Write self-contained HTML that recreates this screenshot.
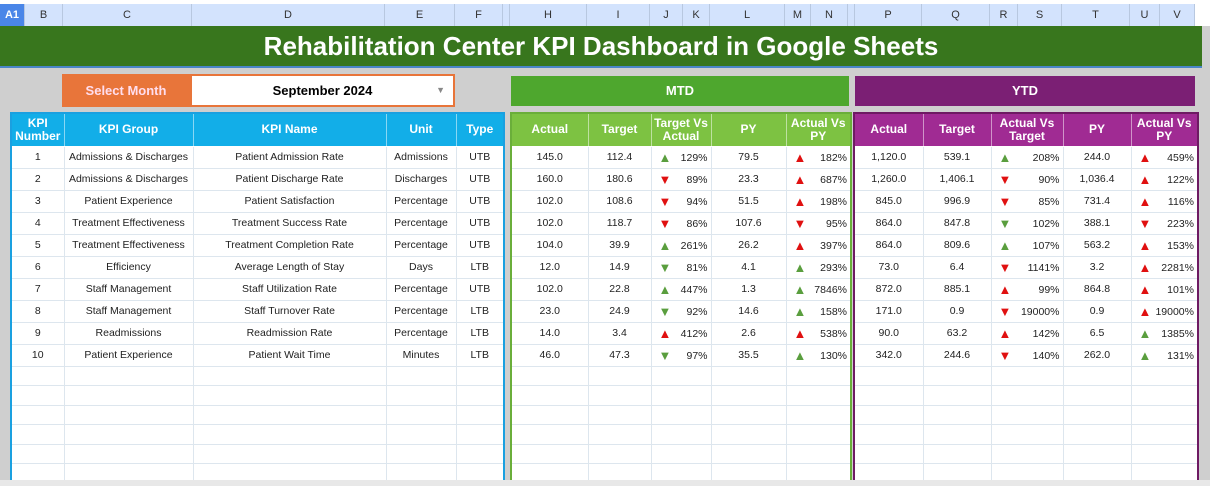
<!DOCTYPE html>
<html><head><meta charset="utf-8"><style>
*{margin:0;padding:0;box-sizing:border-box}
body{width:1210px;height:486px;overflow:hidden;background:#cfcfcf;font-family:"Liberation Sans",Arial,sans-serif;position:relative}
.colhdr{position:absolute;top:0;left:0;width:1210px;height:26px;background:#fff}
.ch{position:absolute;top:4px;height:22px;background:#d3e3fd;border-right:1px solid #b8c8e0;font-size:11px;color:#333;text-align:center;line-height:22px}
.title{position:absolute;left:0;top:26px;width:1202px;height:42px;background:#38761d;border-bottom:2px solid #4a86c8;color:#fff;font-weight:bold;font-size:26px;text-align:center;line-height:40px}
.box{position:absolute;font-weight:bold;font-size:13px;text-align:center;color:#fff}
table{position:absolute;border-collapse:collapse;table-layout:fixed;background:#fff;font-size:10.5px;color:#222}
td{text-align:center;height:22px;border:1px solid #dde6ee;white-space:nowrap;overflow:visible;padding:0}
th{height:33px;color:#fff;font-weight:bold;font-size:12px;border:1px solid rgba(255,255,255,.5);line-height:13px}
tr.e td{height:19.5px}
.a{position:relative}
.a i{font-style:normal;position:absolute;left:7px;top:3px;font-size:13px}
.a b{font-weight:normal;position:absolute;right:3px;top:5px}
.g{color:#5a9e3e}.r{color:#e01010}
</style></head><body>
<div class="colhdr">
<div class="ch" style="left:0;width:25px;background:#4a86e8;color:#fff;font-weight:bold">A1</div>
<div class="ch" style="left:25px;width:38px">B</div>
<div class="ch" style="left:63px;width:129px">C</div>
<div class="ch" style="left:192px;width:193px">D</div>
<div class="ch" style="left:385px;width:70px">E</div>
<div class="ch" style="left:455px;width:48px">F</div>
<div class="ch" style="left:503px;width:7px"></div>
<div class="ch" style="left:510px;width:77px">H</div>
<div class="ch" style="left:587px;width:63px">I</div>
<div class="ch" style="left:650px;width:33px">J</div>
<div class="ch" style="left:683px;width:27px">K</div>
<div class="ch" style="left:710px;width:75px">L</div>
<div class="ch" style="left:785px;width:26px">M</div>
<div class="ch" style="left:811px;width:37px">N</div>
<div class="ch" style="left:848px;width:7px"></div>
<div class="ch" style="left:855px;width:67px">P</div>
<div class="ch" style="left:922px;width:68px">Q</div>
<div class="ch" style="left:990px;width:28px">R</div>
<div class="ch" style="left:1018px;width:44px">S</div>
<div class="ch" style="left:1062px;width:68px">T</div>
<div class="ch" style="left:1130px;width:30px">U</div>
<div class="ch" style="left:1160px;width:35px">V</div>
</div>
<div class="title">Rehabilitation Center KPI Dashboard in Google Sheets</div>
<div class="box" style="left:62px;top:74px;width:128px;height:33px;background:#e8753a;line-height:33px;color:#fde">Select Month</div>
<div class="box" style="left:190px;top:74px;width:265px;height:33px;background:#fff;border:2px solid #e8753a;color:#000;line-height:29px">September 2024<span style="position:absolute;right:8px;top:0;color:#888;font-size:9px">▼</span></div>
<div class="box" style="left:511px;top:76px;width:338px;height:30px;background:#4ea72e;line-height:30px">MTD</div>
<div class="box" style="left:855px;top:76px;width:340px;height:30px;background:#7b1f74;line-height:30px">YTD</div>

<table style="left:10px;top:112px;width:493px;border:2px solid #1aa0e0;height:370px">
<colgroup><col style="width:53px"><col style="width:129px"><col style="width:193px"><col style="width:70px"><col style="width:48px"></colgroup>
<tr style="background:#12aee8"><th>KPI<br>Number</th><th>KPI Group</th><th>KPI Name</th><th>Unit</th><th>Type</th></tr>
<tr><td>1</td><td>Admissions &amp; Discharges</td><td>Patient Admission Rate</td><td>Admissions</td><td>UTB</td></tr>
<tr><td>2</td><td>Admissions &amp; Discharges</td><td>Patient Discharge Rate</td><td>Discharges</td><td>UTB</td></tr>
<tr><td>3</td><td>Patient Experience</td><td>Patient Satisfaction</td><td>Percentage</td><td>UTB</td></tr>
<tr><td>4</td><td>Treatment Effectiveness</td><td>Treatment Success Rate</td><td>Percentage</td><td>UTB</td></tr>
<tr><td>5</td><td>Treatment Effectiveness</td><td>Treatment Completion Rate</td><td>Percentage</td><td>UTB</td></tr>
<tr><td>6</td><td>Efficiency</td><td>Average Length of Stay</td><td>Days</td><td>LTB</td></tr>
<tr><td>7</td><td>Staff Management</td><td>Staff Utilization Rate</td><td>Percentage</td><td>UTB</td></tr>
<tr><td>8</td><td>Staff Management</td><td>Staff Turnover Rate</td><td>Percentage</td><td>LTB</td></tr>
<tr><td>9</td><td>Readmissions</td><td>Readmission Rate</td><td>Percentage</td><td>LTB</td></tr>
<tr><td>10</td><td>Patient Experience</td><td>Patient Wait Time</td><td>Minutes</td><td>LTB</td></tr>
<tr class="e"><td></td><td></td><td></td><td></td><td></td></tr>
<tr class="e"><td></td><td></td><td></td><td></td><td></td></tr>
<tr class="e"><td></td><td></td><td></td><td></td><td></td></tr>
<tr class="e"><td></td><td></td><td></td><td></td><td></td></tr>
<tr class="e"><td></td><td></td><td></td><td></td><td></td></tr>
<tr class="e"><td></td><td></td><td></td><td></td><td></td></tr>
</table>

<table style="left:510px;top:112px;width:340px;border:2px solid #6aae3a;height:370px">
<colgroup><col style="width:77px"><col style="width:63px"><col style="width:60px"><col style="width:75px"><col style="width:65px"></colgroup>
<tr style="background:#7dc242"><th>Actual</th><th>Target</th><th>Target Vs<br>Actual</th><th>PY</th><th>Actual Vs<br>PY</th></tr>
<tr><td>145.0</td><td>112.4</td><td class="a"><i class="g">▲</i><b>129%</b></td><td>79.5</td><td class="a"><i class="r">▲</i><b>182%</b></td></tr>
<tr><td>160.0</td><td>180.6</td><td class="a"><i class="r">▼</i><b>89%</b></td><td>23.3</td><td class="a"><i class="r">▲</i><b>687%</b></td></tr>
<tr><td>102.0</td><td>108.6</td><td class="a"><i class="r">▼</i><b>94%</b></td><td>51.5</td><td class="a"><i class="r">▲</i><b>198%</b></td></tr>
<tr><td>102.0</td><td>118.7</td><td class="a"><i class="r">▼</i><b>86%</b></td><td>107.6</td><td class="a"><i class="r">▼</i><b>95%</b></td></tr>
<tr><td>104.0</td><td>39.9</td><td class="a"><i class="g">▲</i><b>261%</b></td><td>26.2</td><td class="a"><i class="r">▲</i><b>397%</b></td></tr>
<tr><td>12.0</td><td>14.9</td><td class="a"><i class="g">▼</i><b>81%</b></td><td>4.1</td><td class="a"><i class="g">▲</i><b>293%</b></td></tr>
<tr><td>102.0</td><td>22.8</td><td class="a"><i class="g">▲</i><b>447%</b></td><td>1.3</td><td class="a"><i class="g">▲</i><b>7846%</b></td></tr>
<tr><td>23.0</td><td>24.9</td><td class="a"><i class="g">▼</i><b>92%</b></td><td>14.6</td><td class="a"><i class="g">▲</i><b>158%</b></td></tr>
<tr><td>14.0</td><td>3.4</td><td class="a"><i class="r">▲</i><b>412%</b></td><td>2.6</td><td class="a"><i class="r">▲</i><b>538%</b></td></tr>
<tr><td>46.0</td><td>47.3</td><td class="a"><i class="g">▼</i><b>97%</b></td><td>35.5</td><td class="a"><i class="g">▲</i><b>130%</b></td></tr>
<tr class="e"><td></td><td></td><td></td><td></td><td></td></tr>
<tr class="e"><td></td><td></td><td></td><td></td><td></td></tr>
<tr class="e"><td></td><td></td><td></td><td></td><td></td></tr>
<tr class="e"><td></td><td></td><td></td><td></td><td></td></tr>
<tr class="e"><td></td><td></td><td></td><td></td><td></td></tr>
<tr class="e"><td></td><td></td><td></td><td></td><td></td></tr>
</table>

<table style="left:853px;top:112px;width:344px;border:2px solid #6e1a63;height:370px">
<colgroup><col style="width:69px"><col style="width:68px"><col style="width:72px"><col style="width:68px"><col style="width:67px"></colgroup>
<tr style="background:#a02b93"><th>Actual</th><th>Target</th><th>Actual Vs<br>Target</th><th>PY</th><th>Actual Vs<br>PY</th></tr>
<tr><td>1,120.0</td><td>539.1</td><td class="a"><i class="g">▲</i><b>208%</b></td><td>244.0</td><td class="a"><i class="r">▲</i><b>459%</b></td></tr>
<tr><td>1,260.0</td><td>1,406.1</td><td class="a"><i class="r">▼</i><b>90%</b></td><td>1,036.4</td><td class="a"><i class="r">▲</i><b>122%</b></td></tr>
<tr><td>845.0</td><td>996.9</td><td class="a"><i class="r">▼</i><b>85%</b></td><td>731.4</td><td class="a"><i class="r">▲</i><b>116%</b></td></tr>
<tr><td>864.0</td><td>847.8</td><td class="a"><i class="g">▼</i><b>102%</b></td><td>388.1</td><td class="a"><i class="r">▼</i><b>223%</b></td></tr>
<tr><td>864.0</td><td>809.6</td><td class="a"><i class="g">▲</i><b>107%</b></td><td>563.2</td><td class="a"><i class="r">▲</i><b>153%</b></td></tr>
<tr><td>73.0</td><td>6.4</td><td class="a"><i class="r">▼</i><b>1141%</b></td><td>3.2</td><td class="a"><i class="r">▲</i><b>2281%</b></td></tr>
<tr><td>872.0</td><td>885.1</td><td class="a"><i class="r">▲</i><b>99%</b></td><td>864.8</td><td class="a"><i class="r">▲</i><b>101%</b></td></tr>
<tr><td>171.0</td><td>0.9</td><td class="a"><i class="r">▼</i><b>19000%</b></td><td>0.9</td><td class="a"><i class="r">▲</i><b>19000%</b></td></tr>
<tr><td>90.0</td><td>63.2</td><td class="a"><i class="r">▲</i><b>142%</b></td><td>6.5</td><td class="a"><i class="g">▲</i><b>1385%</b></td></tr>
<tr><td>342.0</td><td>244.6</td><td class="a"><i class="r">▼</i><b>140%</b></td><td>262.0</td><td class="a"><i class="g">▲</i><b>131%</b></td></tr>
<tr class="e"><td></td><td></td><td></td><td></td><td></td></tr>
<tr class="e"><td></td><td></td><td></td><td></td><td></td></tr>
<tr class="e"><td></td><td></td><td></td><td></td><td></td></tr>
<tr class="e"><td></td><td></td><td></td><td></td><td></td></tr>
<tr class="e"><td></td><td></td><td></td><td></td><td></td></tr>
<tr class="e"><td></td><td></td><td></td><td></td><td></td></tr>
</table>
<div style="position:absolute;left:0;top:480px;width:1210px;height:6px;background:#e8e8e8"></div>
</body></html>
